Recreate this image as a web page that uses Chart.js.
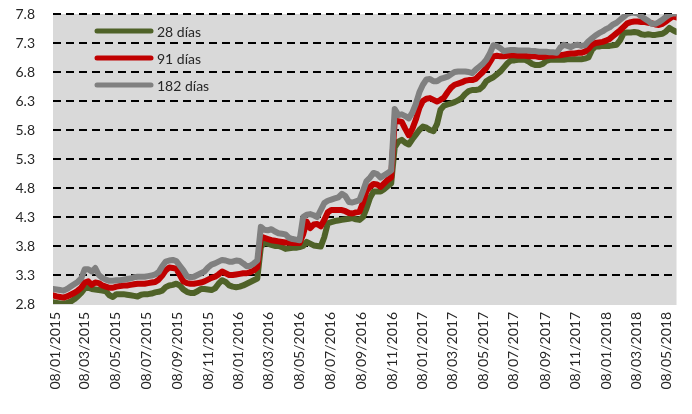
<!DOCTYPE html>
<html><head><meta charset="utf-8">
<script src="https://cdn.jsdelivr.net/npm/chart.js@4.4.1/dist/chart.umd.min.js"></script>
<style>html,body{margin:0;padding:0;background:#fff;}#wrap{width:692px;height:414px;}</style>
</head><body><div id="wrap"><canvas id="c" width="692" height="414"></canvas></div>
<script>
const seriesNames = ['28 días', '91 días', '182 días'];
const seriesColors = ['#4F6228', '#C00000', '#808080'];
const firstWeek = '04/01/2015';
const xTickLabels = ['08/01/2015','08/03/2015','08/05/2015','08/07/2015','08/09/2015','08/11/2015',
  '08/01/2016','08/03/2016','08/05/2016','08/07/2016','08/09/2016','08/11/2016',
  '08/01/2017','08/03/2017','08/05/2017','08/07/2017','08/09/2017','08/11/2017',
  '08/01/2018','08/03/2018','08/05/2018'];
const yTicks = [2.8, 3.3, 3.8, 4.3, 4.8, 5.3, 5.8, 6.3, 6.8, 7.3, 7.8];

const rate28 = [
 2.83,2.82,2.81,2.81,2.82,2.84,2.88,2.93,2.99,3.07,
 3.08,3.06,3.05,3.04,3.03,3.02,2.95,2.92,2.97,2.97,
 2.97,2.96,2.95,2.94,2.93,2.96,2.97,2.97,2.98,3.00,
 3.01,3.03,3.09,3.12,3.13,3.15,3.12,3.05,3.01,2.99,
 2.99,3.02,3.06,3.06,3.05,3.04,3.07,3.15,3.21,3.18,
 3.12,3.10,3.09,3.10,3.12,3.15,3.18,3.21,3.24,3.78,
 3.86,3.84,3.82,3.80,3.80,3.78,3.75,3.76,3.77,3.77,
 3.78,3.80,3.87,3.84,3.81,3.80,3.79,3.95,4.19,4.21,
 4.23,4.24,4.25,4.26,4.27,4.28,4.26,4.25,4.30,4.45,
 4.63,4.74,4.74,4.74,4.78,4.83,4.88,5.50,5.60,5.63,
 5.58,5.55,5.64,5.72,5.80,5.86,5.84,5.80,5.78,5.90,
 6.15,6.22,6.24,6.26,6.28,6.31,6.35,6.42,6.47,6.49,
 6.49,6.50,6.55,6.64,6.68,6.71,6.76,6.81,6.88,6.95,
 7.00,7.00,7.01,7.01,7.01,6.98,6.94,6.92,6.92,6.94,
 6.99,7.01,7.01,7.01,7.01,7.01,7.02,7.02,7.02,7.02,
 7.02,7.03,7.05,7.18,7.24,7.24,7.25,7.25,7.25,7.26,
 7.27,7.35,7.47,7.48,7.48,7.49,7.48,7.45,7.44,7.45,
 7.44,7.44,7.45,7.46,7.50,7.56,7.52,7.49];
const rate91 = [
 2.95,2.93,2.92,2.91,2.93,2.96,2.99,3.03,3.08,3.17,
 3.19,3.13,3.17,3.16,3.12,3.10,3.08,3.08,3.10,3.11,
 3.12,3.12,3.13,3.14,3.15,3.15,3.15,3.16,3.17,3.18,
 3.22,3.29,3.38,3.43,3.42,3.41,3.30,3.19,3.16,3.15,
 3.15,3.16,3.17,3.19,3.22,3.25,3.27,3.31,3.36,3.33,
 3.30,3.30,3.31,3.32,3.33,3.33,3.35,3.38,3.43,3.96,
 3.94,3.92,3.90,3.89,3.88,3.87,3.86,3.86,3.85,3.85,
 3.85,4.00,4.22,4.11,4.17,4.18,4.14,4.25,4.38,4.42,
 4.42,4.42,4.42,4.40,4.37,4.36,4.38,4.39,4.55,4.75,
 4.82,4.87,4.86,4.82,4.88,4.94,4.98,5.96,5.95,5.94,
 5.82,5.71,5.82,5.98,6.18,6.30,6.34,6.35,6.32,6.29,
 6.32,6.36,6.45,6.53,6.58,6.60,6.62,6.65,6.66,6.66,
 6.68,6.74,6.80,6.87,6.97,7.07,7.08,7.07,7.07,7.08,
 7.09,7.09,7.08,7.08,7.08,7.07,7.07,7.07,7.06,7.06,
 7.07,7.08,7.08,7.09,7.09,7.10,7.11,7.12,7.12,7.13,
 7.13,7.15,7.20,7.27,7.30,7.31,7.32,7.34,7.37,7.42,
 7.47,7.52,7.58,7.64,7.66,7.67,7.67,7.66,7.66,7.65,
 7.64,7.62,7.61,7.63,7.67,7.72,7.76,7.74];
const rate182 = [
 3.06,3.05,3.04,3.03,3.06,3.10,3.14,3.18,3.24,3.40,
 3.40,3.36,3.42,3.30,3.25,3.22,3.20,3.20,3.21,3.21,
 3.22,3.23,3.24,3.26,3.27,3.27,3.27,3.28,3.29,3.31,
 3.35,3.45,3.53,3.55,3.56,3.54,3.46,3.38,3.28,3.26,
 3.27,3.30,3.33,3.36,3.43,3.48,3.50,3.53,3.56,3.55,
 3.53,3.53,3.55,3.54,3.50,3.45,3.46,3.50,3.55,4.13,
 4.08,4.07,4.09,4.05,4.02,4.01,4.00,3.94,3.92,3.91,
 3.90,4.30,4.34,4.35,4.33,4.30,4.42,4.54,4.58,4.60,
 4.62,4.64,4.70,4.66,4.56,4.55,4.57,4.59,4.75,4.92,
 4.98,5.06,5.04,4.98,5.02,5.06,5.10,6.16,6.06,6.07,
 6.04,6.00,6.10,6.25,6.45,6.58,6.67,6.68,6.64,6.64,
 6.68,6.70,6.72,6.76,6.80,6.81,6.81,6.81,6.80,6.78,
 6.84,6.89,6.94,7.01,7.12,7.26,7.25,7.21,7.16,7.17,
 7.18,7.18,7.17,7.17,7.17,7.17,7.16,7.16,7.15,7.15,
 7.15,7.14,7.14,7.13,7.22,7.27,7.25,7.23,7.26,7.27,
 7.25,7.26,7.33,7.38,7.43,7.47,7.50,7.54,7.57,7.62,
 7.65,7.70,7.75,7.80,7.82,7.82,7.81,7.76,7.72,7.68,
 7.63,7.63,7.66,7.70,7.75,7.79,7.81,7.81];

const DAY = 86400000;
function dmyToDay(s) { const [d, m, y] = s.split('/').map(Number); return Date.UTC(y, m - 1, d) / DAY; }
const startDay = dmyToDay(firstWeek);
const toPoints = arr => arr.map((v, i) => ({ x: startDay + 7 * i, y: v }));
const tickDays = xTickLabels.map(dmyToDay);
const allSeries = [rate28, rate91, rate182];
const lastDay = startDay + 7 * (rate28.length - 1);

const FONT = 'Lato, "Open Sans", sans-serif';

const plotBg = {
  id: 'plotBg',
  beforeDraw(chart) {
    const a = chart.chartArea, c = chart.ctx;
    c.save(); c.fillStyle = '#D9D9D9';
    c.fillRect(a.left, a.top, a.right - a.left, a.bottom - a.top + 1);
    c.restore();
  }
};
const insideLegend = {
  id: 'insideLegend',
  afterDatasetsDraw(chart) {
    const c = chart.ctx, a = chart.chartArea;
    c.save();
    c.font = '14px ' + FONT;
    c.textBaseline = 'middle';
    chart.data.datasets.forEach((ds, k) => {
      const y = a.top + 17 + k * 27;
      const x0 = a.left + 44;
      c.strokeStyle = ds.borderColor; c.lineWidth = 5; c.lineCap = 'round';
      c.beginPath(); c.moveTo(x0, y); c.lineTo(x0 + 54, y); c.stroke();
      c.fillStyle = '#262626';
      c.fillText(ds.label, x0 + 60, y + 1);
    });
    c.restore();
  }
};

new Chart(document.getElementById('c'), {
  type: 'line',
  data: {
    datasets: allSeries.map((arr, k) => ({
      label: seriesNames[k],
      data: toPoints(arr),
      borderColor: seriesColors[k],
      backgroundColor: seriesColors[k],
      borderWidth: 6,
      pointRadius: 0,
      tension: 0,
      borderJoinStyle: 'round',
      borderCapStyle: 'round',
      order: 2 - k
    }))
  },
  options: {
    responsive: false,
    animation: false,
    devicePixelRatio: 1,
    layout: { padding: { top: 14, right: 15, left: 0, bottom: 0 } },
    plugins: { legend: { display: false }, tooltip: { enabled: false } },
    scales: {
      x: {
        type: 'linear',
        min: startDay,
        max: lastDay,
        afterBuildTicks(scale) { scale.ticks = tickDays.map(v => ({ value: v })); },
        afterFit(scale) { scale.height = 110; },
        grid: { display: false, drawTicks: false },
        border: { display: false },
        ticks: {
          autoSkip: false,
          minRotation: 90, maxRotation: 90,
          padding: 8,
          color: '#262626',
          font: { family: FONT, size: 14 },
          callback(v) { const i = tickDays.indexOf(v); return i >= 0 ? xTickLabels[i] : ''; }
        }
      },
      y: {
        type: 'linear',
        min: yTicks[0],
        max: yTicks[yTicks.length - 1],
        afterBuildTicks(scale) { scale.ticks = yTicks.map(v => ({ value: v })); },
        afterFit(scale) { scale.width = 53; },
        grid: {
          drawTicks: true,
          tickLength: 18,
          tickColor: 'rgba(0,0,0,0)',
          lineWidth: 2,
          color: ctx => (ctx.tick && ctx.tick.value === yTicks[0]) ? 'rgba(0,0,0,0)' : '#000000'
        },
        border: { display: false, dash: [8, 5] },
        ticks: {
          padding: 0,
          color: '#262626',
          font: { family: FONT, size: 14 },
          callback: v => Number(v).toFixed(1)
        }
      }
    }
  },
  plugins: [plotBg, insideLegend]
});
</script></body></html>
